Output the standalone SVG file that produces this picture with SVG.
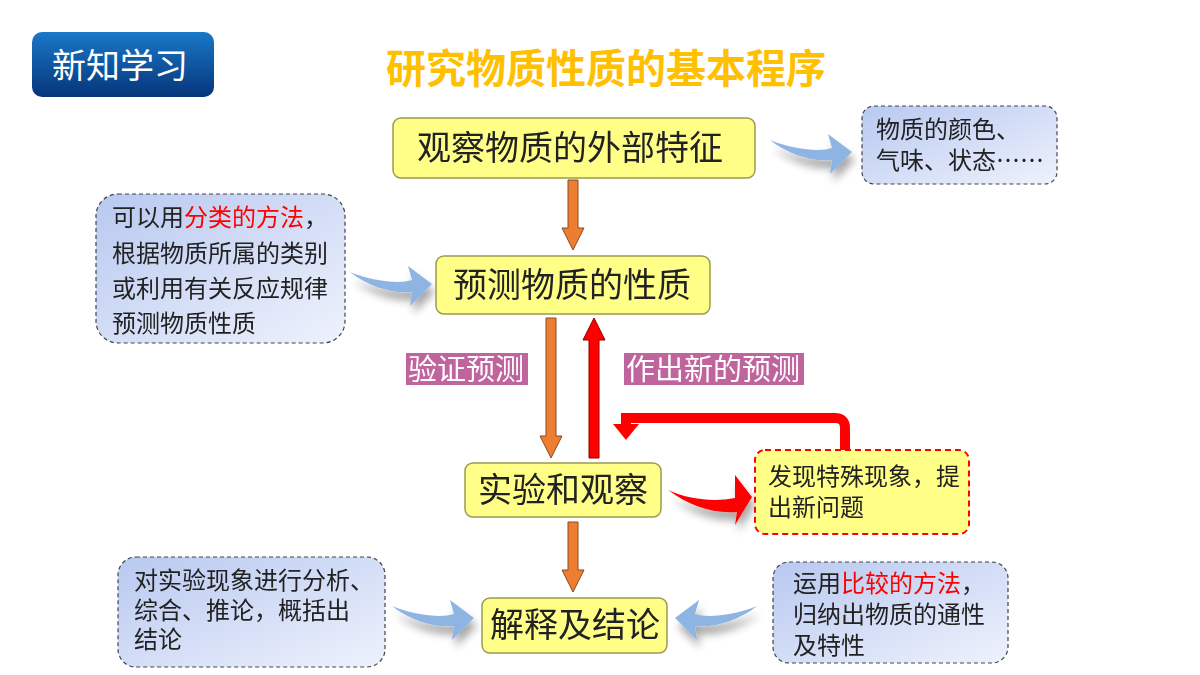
<svg xmlns="http://www.w3.org/2000/svg" width="1200" height="675" viewBox="0 0 1200 675">
<defs>
<linearGradient id="badge" x1="0" y1="0" x2="0" y2="1"><stop offset="0" stop-color="#1a78c8"/><stop offset="1" stop-color="#06357a"/></linearGradient>
<linearGradient id="callout" x1="0" y1="0" x2="1" y2="1"><stop offset="0" stop-color="#b8c8f0"/><stop offset="1" stop-color="#eef2fc"/></linearGradient>
<filter id="sh" x="-20%" y="-20%" width="150%" height="180%"><feGaussianBlur in="SourceAlpha" stdDeviation="4"/><feOffset dx="3" dy="8"/><feComponentTransfer><feFuncA type="linear" slope="0.35"/></feComponentTransfer><feMerge><feMergeNode/><feMergeNode in="SourceGraphic"/></feMerge></filter>
<path id="bluearrow" d="M0,0 C25,10 50,12 62,8 L58,-6 L82,12 L60,34 L62,20 C45,22 20,16 0,0 Z"/>
</defs>
<style>
.node{fill:#ffff88;stroke:#9a9a50;stroke-width:1.5}
.nt{font-family:"Noto Sans CJK SC","Liberation Serif",serif;font-size:34px;fill:#222;text-anchor:middle}
.ct{font-family:"Noto Sans CJK SC","Liberation Serif",serif;font-size:24px;fill:#222}
.co{fill:url(#callout);stroke:#444;stroke-width:1.2;stroke-dasharray:4 3}
.lab{fill:#c0649e}
.lt{font-family:"Noto Sans CJK SC",sans-serif;font-size:29px;fill:#fff}
.or{fill:#ed7d31;stroke:#8a4a20;stroke-width:1}
.blue{fill:#8db4e2}
.red{fill:#ff0000}
</style>
<rect width="1200" height="675" fill="#fff"/>
<g id="badge-g"><rect x="32" y="32" width="182" height="65" rx="10" fill="url(#badge)"/><text x="52" y="78" font-family="Noto Sans CJK SC,sans-serif" font-size="34" fill="#fff">新知学习</text></g>
<text x="606" y="83" text-anchor="middle" font-family="Noto Sans CJK SC,sans-serif" font-weight="bold" font-size="40" fill="#ffc000">研究物质性质的基本程序</text>

<g id="connectors">
<polygon class="or" points="568,180 578,180 578,228 584,228 573,250 562,228 568,228"/>
<polygon class="or" points="546,318 556,318 556,436 562,436 551,458 540,436 546,436"/>
<polygon class="red" stroke="#800" stroke-width="1" points="589,458 599,458 599,340 605,340 594,318 583,340 589,340"/>
<polygon class="or" points="568,522 578,522 578,570 584,570 573,592 562,570 568,570"/>
<path d="M845,450 L845,428 Q845,418 835,418 L626,418 L626,424" fill="none" stroke="#ff0000" stroke-width="10"/>
<polygon class="red" points="613,424 639,424 626,440"/>
<g filter="url(#sh)"><path class="red" d="M668,490 C690,500 715,502 735,498 L735,475 L752,497 L735,525 L737,512 C712,514 688,505 668,490 Z"/></g>
<g filter="url(#sh)">
<use href="#bluearrow" class="blue" transform="translate(770,140)"/>
<use href="#bluearrow" class="blue" transform="translate(350,272)"/>
<use href="#bluearrow" class="blue" transform="translate(392,606)"/>
<use href="#bluearrow" class="blue" transform="translate(757,606) scale(-1,1)"/>
</g>
</g>

<g id="n1"><rect class="node" x="393" y="118" width="362" height="60" rx="8"/><text class="nt" x="570" y="160">观察物质的外部特征</text></g>
<g id="n2"><rect class="node" x="436" y="256" width="274" height="58" rx="8"/><text class="nt" x="572" y="297">预测物质的性质</text></g>
<g id="n3"><rect class="node" x="465" y="463" width="196" height="54" rx="8"/><text class="nt" x="563" y="502">实验和观察</text></g>
<g id="n4"><rect class="node" x="482" y="598" width="185" height="55" rx="8"/><text class="nt" x="575" y="637">解释及结论</text></g>

<g id="l1"><rect class="lab" x="406" y="353" width="122" height="32"/><text class="lt" x="408" y="380">验证预测</text></g>
<g id="l2"><rect class="lab" x="624" y="353" width="180" height="32"/><text class="lt" x="626" y="380">作出新的预测</text></g>

<g id="red-box"><rect x="755" y="450" width="214" height="84" rx="10" fill="#ffff88" stroke="#ff0000" stroke-width="2" stroke-dasharray="6 4"/><text class="ct" x="768" y="485">发现特殊现象，提</text><text class="ct" x="768" y="516">出新问题</text></g>

<g id="c1"><rect class="co" x="862" y="106" width="195" height="78" rx="12"/><text class="ct" x="876" y="138">物质的颜色、</text><text class="ct" x="876" y="169">气味、状态……</text></g>
<g id="c2"><rect class="co" x="96" y="194" width="249" height="149" rx="22"/><text class="ct" x="112" y="226">可以用<tspan fill="#ff0000">分类的方法</tspan>，</text><text class="ct" x="112" y="262">根据物质所属的类别</text><text class="ct" x="112" y="297">或利用有关反应规律</text><text class="ct" x="112" y="332">预测物质性质</text></g>
<g id="c3"><rect class="co" x="118" y="557" width="267" height="110" rx="18"/><text class="ct" x="134" y="589">对实验现象进行分析、</text><text class="ct" x="134" y="619">综合、推论，概括出</text><text class="ct" x="134" y="648">结论</text></g>
<g id="c4"><rect class="co" x="773" y="562" width="235" height="101" rx="16"/><text class="ct" x="793" y="592">运用<tspan fill="#ff0000">比较的方法</tspan>，</text><text class="ct" x="793" y="623">归纳出物质的通性</text><text class="ct" x="793" y="654">及特性</text></g>
</svg>
